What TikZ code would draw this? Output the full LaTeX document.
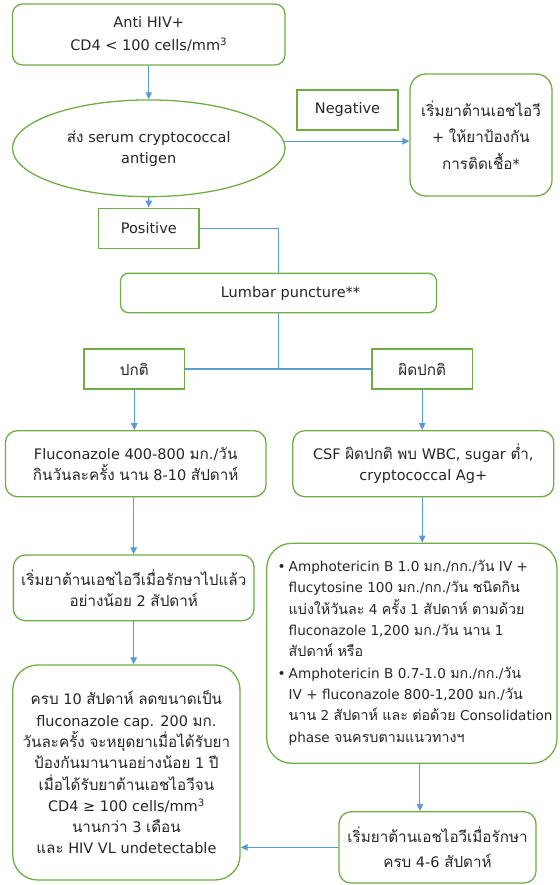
\documentclass[tikz,border=0pt]{standalone}
\usepackage{fontspec}
\setmainfont{DejaVu Sans}
\newfontfamily\thaifont[Script=Thai,Scale=1.05]{Loma}
\XeTeXinterchartokenstate=1
\newXeTeXintercharclass\thaicls
\count255="0E00
\loop \XeTeXcharclass\count255=\thaicls \advance\count255 by 1 \ifnum\count255<"0E80 \repeat
\XeTeXinterchartoks 0 \thaicls = {\thaifont}
\XeTeXinterchartoks 4095 \thaicls = {\thaifont}
\XeTeXinterchartoks \thaicls 0 = {\normalfont}
\XeTeXinterchartoks \thaicls 4095 = {\normalfont}
\usetikzlibrary{shapes.geometric,arrows.meta}
\definecolor{grn}{HTML}{70AD47}
\definecolor{blu}{HTML}{5B9BD5}
\definecolor{txt}{HTML}{262626}
\newcommand\setfs[2]{\fontsize{#1}{#2}\selectfont}
\begin{document}
\begin{tikzpicture}[x=1pt,y=-1pt,
  gbox/.style={draw=grn,line width=1.3pt,inner sep=0pt,align=center,text=txt},
  rbox/.style={gbox,rounded corners=#1},
  conn/.style={draw=blu,line width=1.1pt},
  arr/.style={conn,-{Triangle[length=7pt,width=6.5pt]}}]
\useasboundingbox (0,0) rectangle (559,885);

\node[rbox=10pt, minimum width=272.5pt, minimum height=61pt, font=\setfs{14.5}{23.3}] (top) at (148.75,34.5) {Anti HIV+\\CD4 < 100 cells/mm\textsuperscript{3}};
\node[gbox, ellipse, minimum width=272.5pt, minimum height=96.7pt, font=\setfs{14.5}{20.7}] (ell) at (148.75,148.3) {ส่ง serum cryptococcal\\antigen};
\node[gbox, minimum width=101pt, minimum height=40pt, font=\setfs{14.5}{20}] (neg) at (347.5,110) {Negative};
\node[rbox=16pt, minimum width=142pt, minimum height=122pt, font=\setfs{14.5}{26.7}] (prev) at (481,135) {เริ่มยาต้านเอชไอวี\\+ ให้ยาป้องกัน\\การติดเชื้อ*};
\node[gbox, minimum width=100.4pt, minimum height=40pt, font=\setfs{14.5}{20}] (pos) at (148.8,228.3) {Positive};
\node[rbox=8pt, minimum width=316pt, minimum height=39.3pt, font=\setfs{14.5}{20}] (lp) at (278.5,293) {\hspace*{24pt}Lumbar puncture**};
\node[gbox, minimum width=100.6pt, minimum height=40pt, font=\setfs{14.5}{20}] (norm) at (134.3,369) {ปกติ};
\node[gbox, minimum width=100.6pt, minimum height=40pt, font=\setfs{14.5}{20}] (abn) at (422.2,369) {ผิดปกติ};
\node[rbox=12pt, minimum width=260.6pt, minimum height=66pt, font=\setfs{14.5}{21}] (flu) at (135.7,463.7) {Fluconazole 400-800 มก./วัน\\กินวันละครั้ง นาน 8-10 สัปดาห์};
\node[rbox=12pt, minimum width=261pt, minimum height=66pt, font=\setfs{14.5}{21}] (csf) at (423.3,463.7) {CSF ผิดปกติ พบ WBC, sugar ต่ำ,\\cryptococcal Ag+};
\node[rbox=12pt, minimum width=240.7pt, minimum height=65.7pt, font=\setfs{14.5}{21}] (art2) at (133.7,587.9) {เริ่มยาต้านเอชไอวีเมื่อรักษาไปแล้ว\\อย่างน้อย 2 สัปดาห์};
\node[rbox=25pt, minimum width=227.3pt, minimum height=215pt, font=\setfs{14.5}{21.3}] (cons) at (126.4,772.5) {ครบ 10 สัปดาห์ ลดขนาดเป็น\\fluconazole cap. 200 มก.\\วันละครั้ง จะหยุดยาเมื่อได้รับยา\\ป้องกันมานานอย่างน้อย 1 ปี\\เมื่อได้รับยาต้านเอชไอวีจน\\CD4 ≥ 100 cells/mm\textsuperscript{3}\\นานกว่า 3 เดือน\\และ HIV VL undetectable};
\node[rbox=25pt, minimum width=290.3pt, minimum height=220pt] (amph) at (411.9,653.3) {};
\node[anchor=west, inner sep=0pt, text=txt, font=\setfs{13.6}{21.3}] (amphtxt) at (277.5,652.5) {\begin{tabular}{@{}l@{\hspace{3pt}}l@{}}
• & Amphotericin B 1.0 มก./กก./วัน IV +\\
 & flucytosine 100 มก./กก./วัน ชนิดกิน\\
 & แบ่งให้วันละ 4 ครั้ง 1 สัปดาห์ ตามด้วย\\
 & fluconazole 1,200 มก./วัน นาน 1\\
 & สัปดาห์ หรือ\\
• & Amphotericin B 0.7-1.0 มก./กก./วัน\\
 & IV + fluconazole 800-1,200 มก./วัน\\
 & นาน 2 สัปดาห์ และ ต่อด้วย Consolidation\\
 & phase จนครบตามแนวทางฯ
\end{tabular}};
\node[rbox=12pt, minimum width=197pt, minimum height=71.3pt, font=\setfs{14.5}{25.6}] (art46) at (437.5,847.4) {เริ่มยาต้านเอชไอวีเมื่อรักษา\\ครบ 4-6 สัปดาห์};

\draw[arr] (top.south) -- (ell.north);
\draw[arr] (ell.3) -- (prev.west |- ell.3);
\draw[arr] (ell.south) -- (pos.north);
\draw[conn] (pos.east) -| (lp.north);
\draw[conn] (lp.south) -- (lp.south |- norm.east);
\draw[conn] (norm.east) -- (abn.west);
\draw[arr] (norm.south) -- (norm.south |- flu.north);
\draw[arr] (abn.south) -- (abn.south |- csf.north);
\draw[arr] (art2.north |- flu.south) -- (art2.north);
\draw[arr] (art2.south) -- (art2.south |- cons.north);
\draw[arr] (abn.south |- csf.south) -- (abn.south |- amph.north);
\draw[arr] ([xshift=8pt]amph.south) -- ([xshift=8pt]amph.south |- art46.north);
\draw[arr] (art46.west) -- (cons.east |- art46.west);
\end{tikzpicture}
\end{document}
